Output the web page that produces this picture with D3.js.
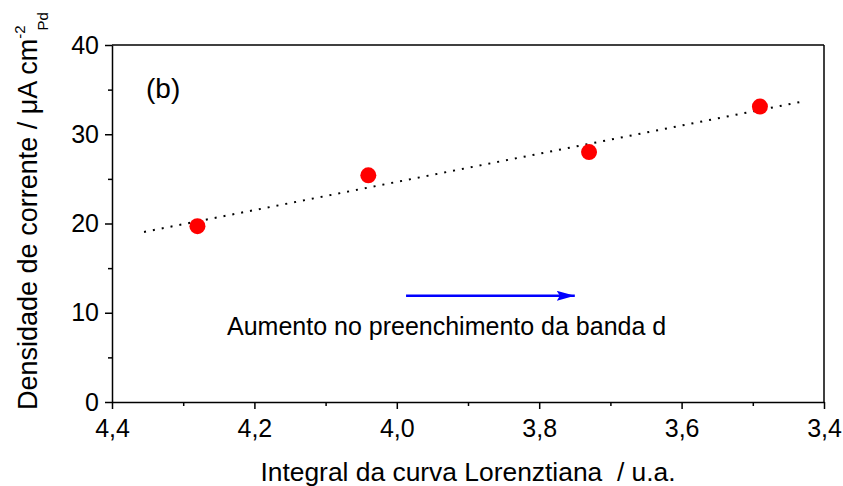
<!DOCTYPE html>
<html><head><meta charset="utf-8">
<script src="https://cdn.jsdelivr.net/npm/d3@7"></script>
<style>
html,body{margin:0;padding:0;background:#fff;}
text{font-family:Arial,"Liberation Sans",sans-serif;fill:#000;}
</style></head>
<body>
<svg id="chart" width="843" height="486"></svg>
<script>
// Data
const xValues = [4.28, 4.04, 3.73, 3.49];
const yValues = [19.7, 25.4, 28.0, 33.1];
const fitX = [4.355, 3.426];
const fitY = [19.05, 33.73];
const xTicks = [4.4, 4.2, 4.0, 3.8, 3.6, 3.4];
const xMinorTicks = [4.3, 4.1, 3.9, 3.7, 3.5];
const yTicks = [0, 10, 20, 30, 40];
const yMinorTicks = [5, 15, 25, 35];
const arrowX = [3.987, 3.750];
const arrowY = 11.9;

const svg = d3.select("#chart");
const L = 112, R = 824, T = 45, B = 402;
const x = d3.scaleLinear().domain([4.4, 3.4]).range([L, R]);
const y = d3.scaleLinear().domain([0, 40]).range([B, T]);
const fmt = d => d3.format(".1f")(d).replace(".", ",");

// frame (top, right)
svg.append("line").attr("x1", L).attr("x2", R).attr("y1", T).attr("y2", T)
  .attr("stroke", "#000").attr("stroke-width", 1.5);
svg.append("line").attr("x1", R).attr("x2", R).attr("y1", T).attr("y2", B)
  .attr("stroke", "#000").attr("stroke-width", 1.5);

// x axis
const gx = svg.append("g").attr("transform", `translate(0,${B})`);
gx.call(d3.axisBottom(x).tickValues(xTicks).tickFormat(fmt).tickSize(7).tickSizeOuter(0).tickPadding(10));
const gxm = svg.append("g").attr("transform", `translate(0,${B})`);
gxm.call(d3.axisBottom(x).tickValues(xMinorTicks).tickFormat("").tickSize(4).tickSizeOuter(0));
gxm.select(".domain").remove();

// y axis
const gy = svg.append("g").attr("transform", `translate(${L},0)`);
gy.call(d3.axisLeft(y).tickValues(yTicks).tickFormat(d3.format("d")).tickSize(7).tickSizeOuter(0).tickPadding(6));
const gym = svg.append("g").attr("transform", `translate(${L},0)`);
gym.call(d3.axisLeft(y).tickValues(yMinorTicks).tickFormat("").tickSize(4).tickSizeOuter(0));
gym.select(".domain").remove();

svg.selectAll(".domain, .tick line").attr("stroke", "#000").attr("stroke-width", 1.5);
svg.selectAll(".tick text").attr("font-size", 25).attr("font-family", "Arial, 'Liberation Sans', sans-serif").attr("fill", "#000");

// fit line
svg.append("line")
  .attr("x1", x(fitX[0])).attr("y1", y(fitY[0]))
  .attr("x2", x(fitX[1])).attr("y2", y(fitY[1]))
  .attr("stroke", "#000").attr("stroke-width", 2).attr("stroke-dasharray", "2,7");

// points
svg.selectAll("circle.pt").data(xValues.map((v, i) => [v, yValues[i]]))
  .enter().append("circle").attr("class", "pt")
  .attr("cx", d => x(d[0])).attr("cy", d => y(d[1])).attr("r", 8).attr("fill", "#ff0000");

// arrow
const defs = svg.append("defs");
defs.append("marker").attr("id", "ah").attr("markerUnits", "userSpaceOnUse")
  .attr("viewBox", "0 0 18 10").attr("refX", 18).attr("refY", 5)
  .attr("markerWidth", 18).attr("markerHeight", 10).attr("orient", "auto")
  .append("path").attr("d", "M0,0 L18,5 L0,10 L3,5 Z").attr("fill", "#0000ff");
svg.append("line")
  .attr("x1", x(arrowX[0])).attr("y1", y(arrowY))
  .attr("x2", x(arrowX[1])).attr("y2", y(arrowY))
  .attr("stroke", "#0000ff").attr("stroke-width", 2.5).attr("marker-end", "url(#ah)");

// annotations
svg.append("text").attr("x", 146).attr("y", 98).attr("font-size", 28).text("(b)");
svg.append("text").attr("x", 227).attr("y", 335).attr("font-size", 25)
  .text("Aumento no preenchimento da banda d");

// axis titles
svg.append("text").attr("x", 468).attr("y", 481).attr("text-anchor", "middle").attr("font-size", 26.4)
  .attr("xml:space", "preserve")
  .text("Integral da curva Lorenztiana  / u.a.");

const yt = svg.append("text").attr("transform", "translate(37,410) rotate(-90)")
  .attr("font-size", 27);
yt.append("tspan").text("Densidade de corrente / \u03bcA cm");
yt.append("tspan").attr("font-size", 15).attr("dy", -12).text("-2");
yt.append("tspan").attr("font-size", 15).attr("dx", -5).attr("dy", 23).text("Pd");
</script>
</body></html>
